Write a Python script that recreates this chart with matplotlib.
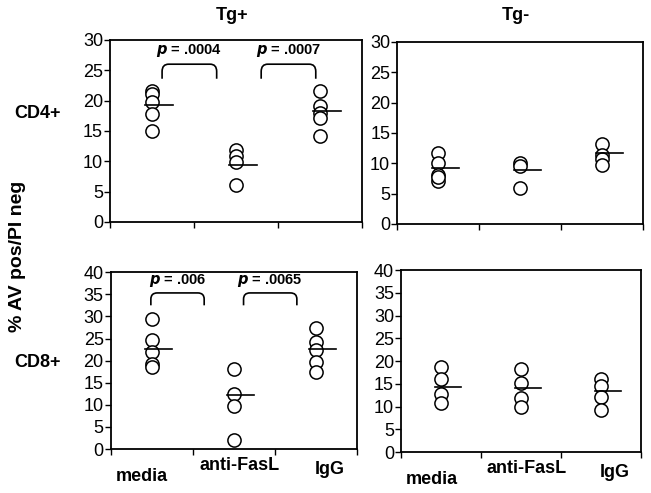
import matplotlib
matplotlib.use("Agg")
import matplotlib.pyplot as plt
from matplotlib.path import Path
from matplotlib.patches import PathPatch

plt.rcParams['font.family'] = ['Liberation Sans', 'DejaVu Sans']

groups = ['media', 'anti-FasL', 'IgG']

# CD4+ Tg+
cd4_pos = [[21.5, 21.1, 19.7, 17.8, 14.9],
           [11.9, 10.8, 9.8, 6.0],
           [21.5, 19.1, 17.9, 17.1, 14.1]]
cd4_pos_med = [19.2, 9.3, 18.3]
# CD4+ Tg-
cd4_neg = [[11.6, 10.0, 8.0, 7.0, 7.8],
           [10.1, 9.6, 5.9],
           [13.1, 11.4, 10.7, 9.7]]
cd4_neg_med = [9.2, 8.9, 11.6]
# CD8+ Tg+
cd8_pos = [[29.5, 24.6, 22.0, 19.2, 18.6],
           [18.1, 12.4, 9.8, 2.0],
           [27.3, 24.3, 22.4, 19.8, 17.5]]
cd8_pos_med = [22.7, 12.2, 22.7]
# CD8+ Tg-
cd8_neg = [[18.6, 16.0, 12.7, 10.7],
           [18.2, 15.1, 11.8, 9.9],
           [16.0, 14.6, 12.1, 9.3]]
cd8_neg_med = [14.3, 14.0, 13.5]

p_cd4 = ['.0004', '.0007']
p_cd8 = ['.006', '.0065']

fig = plt.figure(figsize=(6.51, 4.93), dpi=100)

boxes = [[0.169, 0.550, 0.387, 0.369],
         [0.610, 0.546, 0.378, 0.369],
         [0.170, 0.089, 0.378, 0.359],
         [0.616, 0.083, 0.369, 0.369]]
data = [(cd4_pos, cd4_pos_med, 30), (cd4_neg, cd4_neg_med, 30),
        (cd8_pos, cd8_pos_med, 40), (cd8_neg, cd8_neg_med, 40)]

axes = []
for box, (vals, meds, ymax) in zip(boxes, data):
    ax = fig.add_axes(box)
    for i, v in enumerate(vals):
        ax.plot([i + 0.5] * len(v), v, 'o', ms=9.5, mfc='white', mec='black', mew=1.1, ls='none')
        ax.plot([i + 0.42, i + 0.75], [meds[i], meds[i]], color='black', lw=1.2)
    ax.set_xlim(0, 3)
    ax.set_ylim(0, ymax)
    ax.set_xticks([0, 1, 2, 3])
    ax.set_xticklabels([])
    ax.set_yticks(range(0, ymax + 1, 5))
    ax.tick_params(axis='both', direction='out', length=4, width=1, labelsize=13, pad=1)
    for s in ax.spines.values():
        s.set_linewidth(1.3)
    axes.append(ax)


def bracket(ax, x0, x1, ytop, ybot, label):
    r = (x1 - x0) * 0.12
    ry = (ytop - ybot) * 0.5
    verts = [(x0, ybot), (x0, ytop - ry), (x0, ytop), (x0 + r, ytop),
             (x1 - r, ytop), (x1, ytop), (x1, ytop - ry), (x1, ybot)]
    codes = [Path.MOVETO, Path.LINETO, Path.CURVE3, Path.CURVE3,
             Path.LINETO, Path.CURVE3, Path.CURVE3, Path.LINETO]
    ax.add_patch(PathPatch(Path(verts, codes), fill=False, lw=1.2, color='black'))
    ax.text((x0 + x1) / 2, ytop + (ytop - ybot) * 0.35, r'$\boldsymbol{p}$' + ' = ' + label,
            ha='center', va='bottom', fontsize=10.5, fontweight='bold')


bracket(axes[0], 0.62, 1.27, 26.0, 23.6, p_cd4[0])
bracket(axes[0], 1.80, 2.45, 26.0, 23.6, p_cd4[1])
bracket(axes[2], 0.49, 1.14, 35.3, 32.5, p_cd8[0])
bracket(axes[2], 1.62, 2.27, 35.3, 32.5, p_cd8[1])

# category labels under the bottom panels, slightly staggered as in the figure
label_offsets = [(-7, -20), (4, -12), (10, -15)]
for ax in (axes[2], axes[3]):
    for i, g in enumerate(groups):
        ax.annotate(g, xy=(i + 0.5, 0), xycoords='data', xytext=label_offsets[i],
                    textcoords='offset points', ha='center', va='center',
                    fontsize=13, fontweight='bold')

fig.text(0.357, 0.985, 'Tg+', ha='center', va='top', fontsize=13, fontweight='bold')
fig.text(0.792, 0.985, 'Tg-', ha='center', va='top', fontsize=13, fontweight='bold')
fig.text(0.058, 0.77, 'CD4+', ha='center', va='center', fontsize=13, fontweight='bold')
fig.text(0.058, 0.265, 'CD8+', ha='center', va='center', fontsize=13, fontweight='bold')
fig.text(0.027, 0.48, '% AV pos/PI neg', ha='center', va='center', rotation=90,
         fontsize=14, fontweight='bold')

fig.savefig('out.png', dpi=100)
